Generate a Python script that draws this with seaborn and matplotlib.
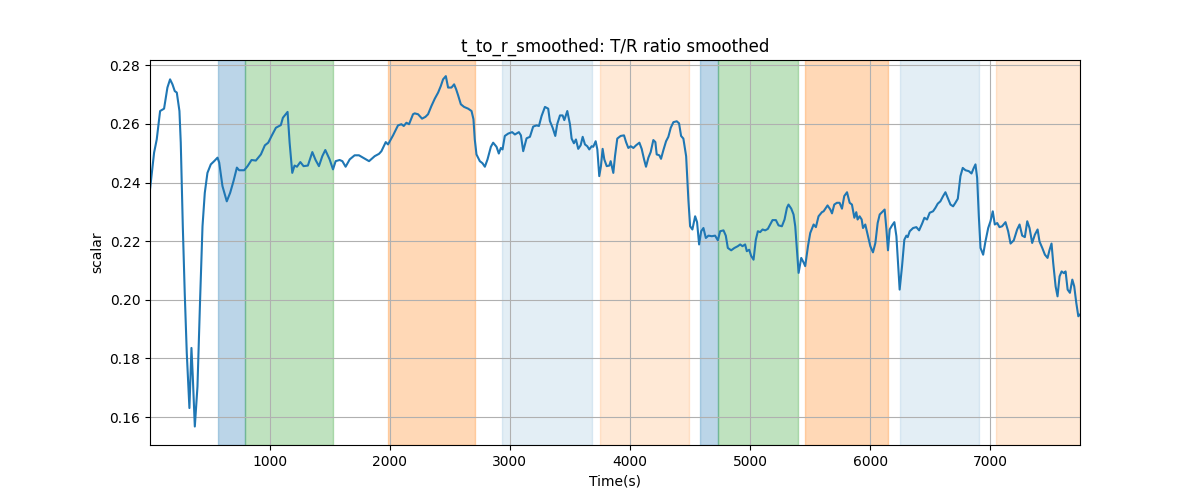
"""
T/R ratio (smoothed) over time, with the protocol phases shaded.
"""


import pandas as pd
import matplotlib
matplotlib.use("Agg")
import matplotlib.pyplot as plt
import seaborn as sns



# =============================================================================
# Data
# =============================================================================


time_s = [
    5, 39, 61, 89, 122, 150, 172, 192, 211, 228, 250, 261, 278, 294, 311,
    333, 350, 361, 378, 400, 422, 442, 461, 483, 511, 539, 567, 581, 608, 644,
    672, 700, 728, 747, 789, 817, 850, 886, 928, 961, 989, 1017, 1053, 1094,
    1111, 1150, 1167, 1189, 1208, 1228, 1256, 1283, 1319, 1356, 1383, 1411,
    1439, 1464, 1500, 1528, 1550, 1583, 1606, 1633, 1667, 1708, 1744, 1778,
    1828, 1875, 1911, 1931, 1967, 1986, 2028, 2069, 2097, 2117, 2139, 2161,
    2194, 2208, 2236, 2269, 2297, 2319, 2347, 2375, 2403, 2425, 2444, 2467,
    2486, 2514, 2536, 2553, 2569, 2592, 2619, 2653, 2681, 2697, 2708, 2722,
    2750, 2772, 2792, 2814, 2842, 2861, 2889, 2908, 2925, 2939, 2958, 2986,
    3019, 3042, 3075, 3092, 3111, 3139, 3167, 3194, 3222, 3242, 3264, 3292,
    3319, 3333, 3356, 3378, 3394, 3417, 3439, 3453, 3478, 3500, 3514, 3533,
    3550, 3569, 3589, 3606, 3625, 3644, 3661, 3681, 3694, 3714, 3728, 3744,
    3758, 3772, 3786, 3806, 3828, 3839, 3861, 3875, 3894, 3922, 3950, 3967,
    3986, 4006, 4028, 4050, 4078, 4097, 4117, 4133, 4153, 4172, 4194, 4211,
    4222, 4244, 4258, 4278, 4300, 4319, 4339, 4361, 4389, 4408, 4425, 4444,
    4467, 4486, 4500, 4519, 4542, 4558, 4575, 4592, 4611, 4631, 4653, 4681,
    4708, 4731, 4750, 4778, 4797, 4814, 4842, 4869, 4897, 4917, 4936, 4958,
    4972, 4992, 5008, 5028, 5047, 5064, 5083, 5103, 5125, 5147, 5167, 5186,
    5214, 5236, 5264, 5286, 5306, 5319, 5342, 5361, 5375, 5389, 5403, 5425,
    5444, 5458, 5481, 5500, 5528, 5547, 5569, 5597, 5611, 5644, 5667, 5681,
    5700, 5722, 5744, 5764, 5783, 5806, 5828, 5847, 5867, 5883, 5894, 5911,
    5928, 5939, 5958, 5978, 6000, 6022, 6042, 6061, 6078, 6097, 6119, 6133,
    6147, 6161, 6181, 6200, 6217, 6231, 6244, 6264, 6283, 6300, 6311, 6328,
    6356, 6383, 6406, 6431, 6450, 6472, 6494, 6522, 6542, 6561, 6583, 6606,
    6625, 6644, 6667, 6689, 6708, 6728, 6750, 6769, 6792, 6819, 6842, 6861,
    6875, 6889, 6903, 6917, 6939, 6958, 6981, 7000, 7019, 7036, 7056, 7075,
    7097, 7125, 7147, 7167, 7194, 7222, 7242, 7264, 7286, 7306, 7325, 7347,
    7369, 7392, 7408, 7431, 7453, 7475, 7492, 7508, 7522, 7542, 7558, 7575,
    7592, 7611, 7625, 7642, 7661, 7681, 7697, 7714, 7731, 7745,
]

t_to_r = [
    0.2376, 0.2502, 0.2547, 0.2644, 0.2652, 0.2724, 0.2752, 0.2735, 0.2712,
    0.2707, 0.2644, 0.2536, 0.2251, 0.2024, 0.1819, 0.1631, 0.1836, 0.1739,
    0.1568, 0.1704, 0.2001, 0.2251, 0.2365, 0.2433, 0.2462, 0.2473, 0.2485,
    0.2468, 0.2388, 0.2336, 0.2365, 0.2405, 0.2451, 0.2442, 0.2442, 0.2456,
    0.2477, 0.2475, 0.2496, 0.2527, 0.2536, 0.2559, 0.2587, 0.2596,
    0.2621, 0.2641, 0.2536, 0.2433, 0.2458, 0.2454, 0.2470, 0.2456, 0.2458,
    0.2504, 0.2477, 0.2456, 0.2490, 0.2511, 0.2479, 0.2445, 0.2473, 0.2477,
    0.2473, 0.2454, 0.2479, 0.2493, 0.2493, 0.2485, 0.2473, 0.2490, 0.2498,
    0.2507, 0.2538, 0.2530, 0.2561, 0.2595, 0.2599, 0.2593, 0.2604, 0.2599,
    0.2633, 0.2636, 0.2633, 0.2618, 0.2624, 0.2633, 0.2661, 0.2686, 0.2707,
    0.2729, 0.2752, 0.2763, 0.2724, 0.2724, 0.2735, 0.2718, 0.2698, 0.2667,
    0.2658, 0.2652, 0.2644, 0.2616, 0.2547, 0.2496, 0.2473, 0.2466, 0.2454,
    0.2479, 0.2522, 0.2536, 0.2522, 0.2499, 0.2518, 0.2513, 0.2559, 0.2567,
    0.2572, 0.2564, 0.2572, 0.2561, 0.2507, 0.2551, 0.2556, 0.2591, 0.2595,
    0.2593, 0.2627, 0.2658, 0.2652, 0.2610, 0.2587, 0.2559, 0.2599, 0.2629,
    0.2629, 0.2613, 0.2644, 0.2599, 0.2550, 0.2534, 0.2547, 0.2515, 0.2527,
    0.2556, 0.2530, 0.2524, 0.2513, 0.2524, 0.2522, 0.2541, 0.2513, 0.2422,
    0.2456, 0.2515, 0.2479, 0.2456, 0.2458, 0.2473, 0.2433, 0.2490, 0.2550,
    0.2559, 0.2561, 0.2538, 0.2518, 0.2524, 0.2518, 0.2527, 0.2536, 0.2515,
    0.2479, 0.2454, 0.2485, 0.2504, 0.2545, 0.2538, 0.2496, 0.2493, 0.2481,
    0.2511, 0.2541, 0.2556, 0.2587, 0.2606, 0.2609, 0.2602, 0.2559, 0.2550,
    0.2490, 0.2340, 0.2251, 0.2240, 0.2285, 0.2265, 0.2189, 0.2234, 0.2245,
    0.2211, 0.2219, 0.2217, 0.2219, 0.2203, 0.2234, 0.2237, 0.2219, 0.2177,
    0.2169, 0.2177, 0.2183, 0.2189, 0.2183, 0.2189, 0.2166, 0.2171, 0.2150,
    0.2137, 0.2205, 0.2234, 0.2231, 0.2240, 0.2237, 0.2242, 0.2257, 0.2272,
    0.2272, 0.2254, 0.2251, 0.2274, 0.2314, 0.2325, 0.2311, 0.2291, 0.2251,
    0.2171, 0.2092, 0.2143, 0.2128, 0.2115, 0.2183, 0.2228, 0.2257, 0.2248,
    0.2285, 0.2299, 0.2302, 0.2322, 0.2308, 0.2295, 0.2325, 0.2331, 0.2331,
    0.2311, 0.2354, 0.2367, 0.2331, 0.2325, 0.2280, 0.2299, 0.2274, 0.2285,
    0.2274, 0.2245, 0.2257, 0.2222, 0.2183, 0.2162, 0.2194, 0.2262, 0.2291,
    0.2299, 0.2308, 0.2245, 0.2169, 0.2240, 0.2254, 0.2265, 0.2217, 0.2120,
    0.2035, 0.2115, 0.2205, 0.2219, 0.2214, 0.2234, 0.2245, 0.2248, 0.2237,
    0.2260, 0.2280, 0.2274, 0.2297, 0.2302, 0.2314, 0.2328, 0.2336, 0.2354,
    0.2367, 0.2348, 0.2325, 0.2319, 0.2331, 0.2345, 0.2422, 0.2450, 0.2442,
    0.2439, 0.2431, 0.2450, 0.2462, 0.2416, 0.2285, 0.2177, 0.2154, 0.2199,
    0.2245, 0.2268, 0.2302, 0.2257, 0.2262, 0.2248, 0.2251, 0.2265, 0.2234,
    0.2192, 0.2203, 0.2240, 0.2257, 0.2219, 0.2214, 0.2268, 0.2245, 0.2194,
    0.2222, 0.2240, 0.2199, 0.2177, 0.2154, 0.2143, 0.2171, 0.2192, 0.2126,
    0.2046, 0.2012, 0.2080, 0.2097, 0.2091, 0.2097, 0.2035, 0.2024, 0.2069,
    0.2046, 0.1990, 0.1944, 0.1950,
]

# Phase intervals (seconds) and the phase each one belongs to
phase_start = [575, 794, 1985, 2933, 3750, 4583, 4736, 5458, 6250, 7050]
phase_end = [794, 1531, 2714, 3681, 4492, 4736, 5397, 6147, 6906, 7745]
phase_name = [
    "A", "B", "C", "D", "E",
    "A", "B", "C", "D", "E",
]


# phase -> (colour, alpha)
PHASE_STYLE = {
    "A": ("tab:blue", 0.3),
    "B": ("tab:green", 0.3),
    "C": ("tab:orange", 0.3),
    "D": ("tab:blue", 0.12),
    "E": ("tab:orange", 0.17),
}



# =============================================================================
# Plot
# =============================================================================


df = pd.DataFrame(
    {
        "Time(s)": time_s,
        "scalar": t_to_r,
    }
)


fig, ax = plt.subplots(
    figsize=(12, 5),
    dpi=100
)


for start, end, name in zip(phase_start, phase_end, phase_name):

    color, alpha = PHASE_STYLE[name]

    ax.axvspan(
        start,
        end,
        color=color,
        alpha=alpha
    )


sns.lineplot(
    data=df,
    x="Time(s)",
    y="scalar",
    color="tab:blue",
    linewidth=1.5,
    ax=ax
)


ax.grid(True)

ax.set_xlim(
    df["Time(s)"].min(),
    df["Time(s)"].max()
)

ax.set_ylim(
    0.1505,
    0.2818
)


ax.set_title(
    "t_to_r_smoothed: T/R ratio smoothed"
)

ax.set_xlabel("Time(s)")

ax.set_ylabel("scalar")


plt.savefig(
    "out.png",
    dpi=100
)
